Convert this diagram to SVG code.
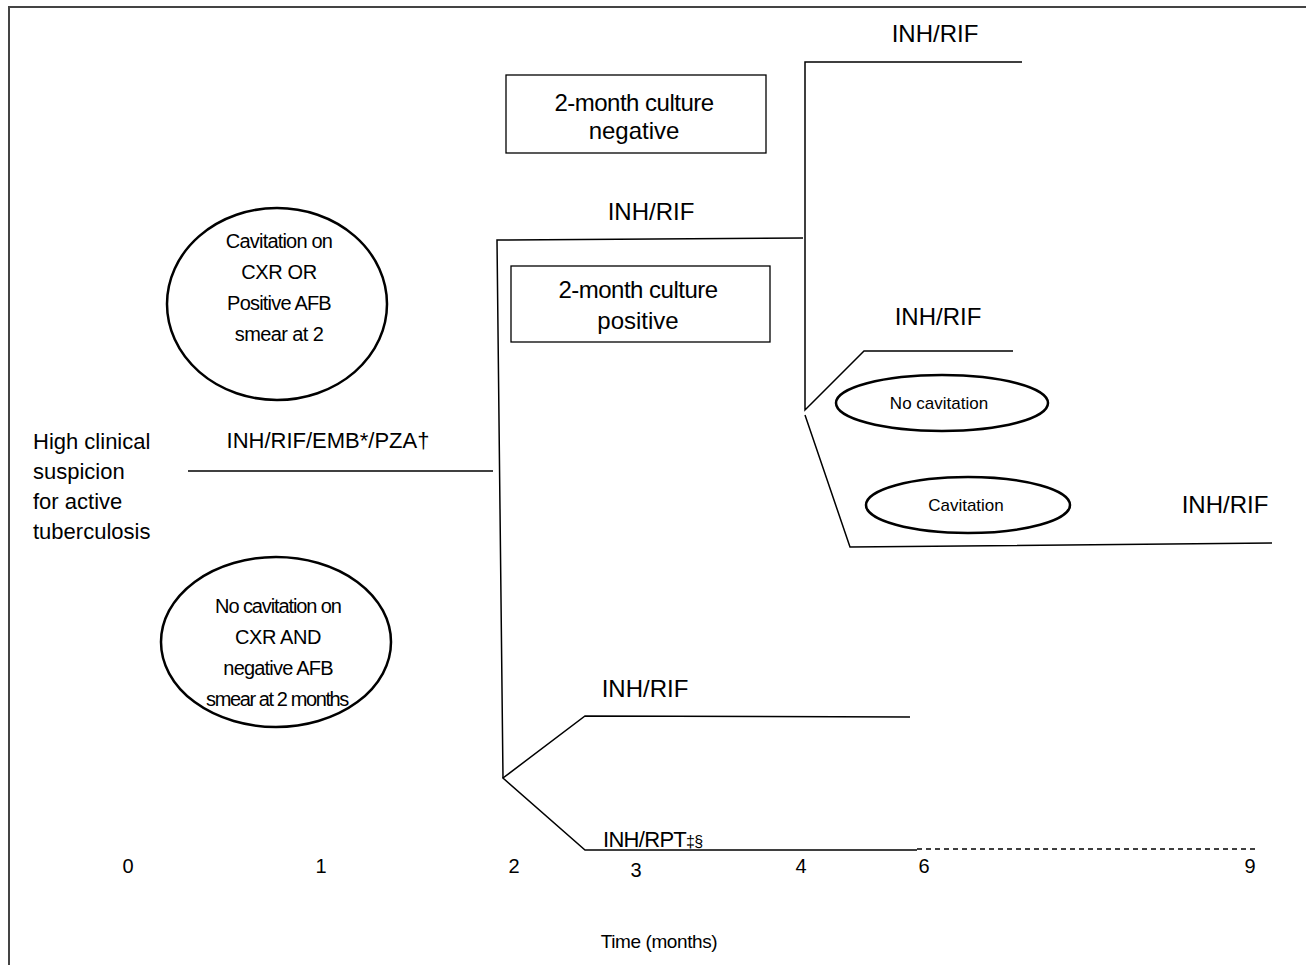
<svg xmlns="http://www.w3.org/2000/svg" width="1306" height="965" viewBox="0 0 1306 965">
<style>
text{font-family:"Liberation Sans",Arial,sans-serif;fill:#000}
.t20{font-size:20px}
.t22{font-size:22px}
.t24{font-size:24px;text-anchor:middle}
.e21{font-size:20px;text-anchor:middle}
.c{text-anchor:middle}
.ln{stroke:#000;stroke-width:1.5;fill:none}
.el{stroke:#000;stroke-width:2.5;fill:#fff}
.bx{stroke:#000;stroke-width:1.3;fill:#fff}
</style>
<rect width="1306" height="965" fill="#fff"/>
<path d="M9,965 V7 H1306" stroke="#444" stroke-width="2" fill="none"/>
<g id="connectors">
<line class="ln" x1="188" y1="471" x2="493" y2="471"/>
<polyline class="ln" points="803,238 497,240 503,778"/>
<polyline class="ln" points="1022,62 805,62 805,410 864,351 1013,351"/>
<polyline class="ln" points="805,415 850,547 1272,543"/>
<polyline class="ln" points="910,717 585,716 503,778 585,850 917,850"/>
<line class="ln" x1="917" y1="849" x2="1258" y2="849" stroke-dasharray="5,4" stroke-width="1.2"/>
</g>
<g id="n-suspicion">
<text class="t22" x="33" y="449">High clinical</text>
<text class="t22" x="33" y="479">suspicion</text>
<text class="t22" x="33" y="509">for active</text>
<text class="t22" x="33" y="539">tuberculosis</text>
</g>
<g id="n-intensive"><text class="t22 c" x="328" y="448">INH/RIF/EMB*/PZA†</text></g>
<g id="n-cavitation">
<ellipse class="el" cx="277" cy="304" rx="110" ry="96"/>
<text class="e21" x="279" y="248" letter-spacing="-0.8">Cavitation on</text>
<text class="e21" x="279" y="279" letter-spacing="-0.4">CXR OR</text>
<text class="e21" x="279" y="310" letter-spacing="-0.8">Positive AFB</text>
<text class="e21" x="279" y="341" letter-spacing="-0.6">smear at 2</text>
</g>
<g id="n-nocavitation">
<ellipse class="el" cx="276" cy="642" rx="115" ry="85"/>
<text class="e21" x="278" y="613" letter-spacing="-1.1">No cavitation on</text>
<text class="e21" x="278" y="644" letter-spacing="-0.4">CXR AND</text>
<text class="e21" x="278" y="675" letter-spacing="-0.8">negative AFB</text>
<text class="e21" x="277" y="706" letter-spacing="-1.4">smear at 2 months</text>
</g>
<g id="n-culture-neg">
<rect class="bx" x="506" y="75" width="260" height="78"/>
<text class="t24" x="634" y="111" letter-spacing="-0.5">2-month culture</text>
<text class="t24" x="634" y="139">negative</text>
</g>
<g id="n-culture-pos">
<rect class="bx" x="511" y="266" width="259" height="76"/>
<text class="t24" x="638" y="298" letter-spacing="-0.5">2-month culture</text>
<text class="t24" x="638" y="329">positive</text>
</g>
<g id="n-inhrif-mid"><text class="t24" x="651" y="220">INH/RIF</text></g>
<g id="n-inhrif-top"><text class="t24" x="935" y="42">INH/RIF</text></g>
<g id="n-inhrif-4a"><text class="t24" x="938" y="325">INH/RIF</text></g>
<g id="n-inhrif-9"><text class="t24" x="1225" y="513">INH/RIF</text></g>
<g id="n-nocav-small">
<ellipse class="el" cx="942" cy="403" rx="106" ry="28"/>
<text x="939" y="409" font-size="17" text-anchor="middle">No cavitation</text>
</g>
<g id="n-cav-small">
<ellipse class="el" cx="968" cy="505" rx="102" ry="28"/>
<text x="966" y="511" font-size="17" text-anchor="middle">Cavitation</text>
</g>
<g id="n-inhrif-low"><text class="t24" x="645" y="697">INH/RIF</text></g>
<g id="n-inhrpt"><text class="t22" x="603" y="847" letter-spacing="-0.7">INH/RPT<tspan font-size="16">‡§</tspan></text></g>
<g id="axis">
<text class="t20 c" x="128" y="873">0</text>
<text class="t20 c" x="321" y="873">1</text>
<text class="t20 c" x="514" y="873">2</text>
<text class="t20 c" x="636" y="877">3</text>
<text class="t20 c" x="801" y="873">4</text>
<text class="t20 c" x="924" y="873">6</text>
<text class="t20 c" x="1250" y="873">9</text>
<text x="659" y="948" font-size="19" text-anchor="middle" letter-spacing="-0.4">Time (months)</text>
</g>
</svg>
